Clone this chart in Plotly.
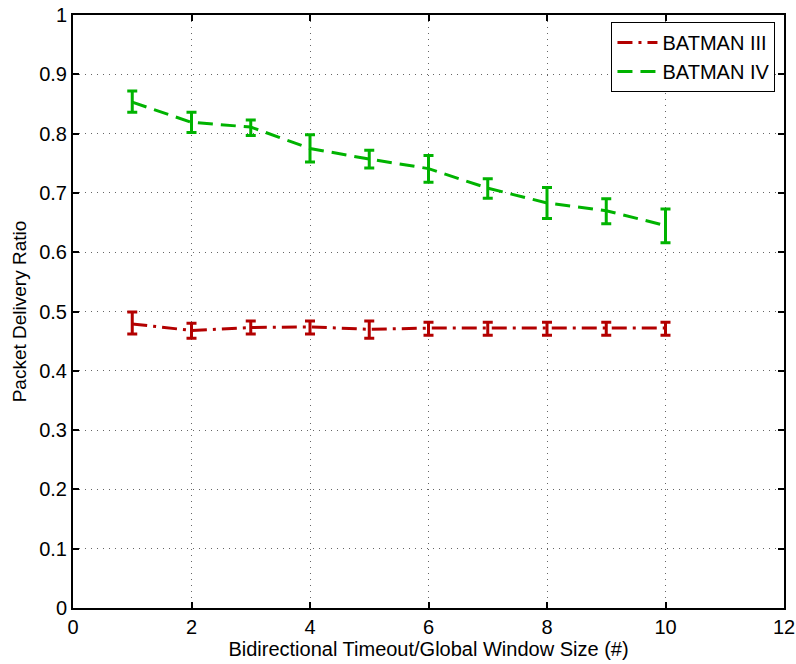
import plotly.graph_objects as go

x_vals = [1, 2, 3, 4, 5, 6, 7, 8, 9, 10]

b3_mean = [0.479, 0.468, 0.473, 0.474, 0.470, 0.472, 0.472, 0.472, 0.472, 0.472]
b3_upper = [0.499, 0.480, 0.484, 0.484, 0.484, 0.482, 0.482, 0.482, 0.482, 0.482]
b3_lower = [0.462, 0.455, 0.462, 0.462, 0.455, 0.460, 0.460, 0.460, 0.460, 0.460]

b4_mean = [0.853, 0.819, 0.811, 0.775, 0.757, 0.741, 0.708, 0.683, 0.670, 0.645]
b4_upper = [0.872, 0.836, 0.823, 0.798, 0.772, 0.763, 0.724, 0.709, 0.690, 0.673]
b4_lower = [0.836, 0.802, 0.797, 0.752, 0.742, 0.718, 0.691, 0.657, 0.648, 0.616]

x_ticks = [0, 2, 4, 6, 8, 10, 12]
y_ticks = [0, 0.1, 0.2, 0.3, 0.4, 0.5, 0.6, 0.7, 0.8, 0.9, 1]
y_tick_labels = ["0", "0.1", "0.2", "0.3", "0.4", "0.5", "0.6", "0.7", "0.8", "0.9", "1"]

RED = "#b30000"
GREEN = "#00b300"
FONT = "Liberation Sans, Arial, Helvetica, sans-serif"

def err(mean, up, lo):
    return ([u - m for u, m in zip(up, mean)], [m - l for m, l in zip(mean, lo)])

fig = go.Figure()

e3p, e3m = err(b3_mean, b3_upper, b3_lower)
e4p, e4m = err(b4_mean, b4_upper, b4_lower)

fig.add_trace(go.Scatter(
    x=x_vals, y=b3_mean, mode="lines", name="BATMAN III",
    line=dict(color=RED, width=3, dash="15px,6px,3px,6px"),
    error_y=dict(type="data", symmetric=False, array=e3p, arrayminus=e3m,
                 color=RED, thickness=3, width=5),
))
fig.add_trace(go.Scatter(
    x=x_vals, y=b4_mean, mode="lines", name="BATMAN IV",
    line=dict(color=GREEN, width=3, dash="15px,8px"),
    error_y=dict(type="data", symmetric=False, array=e4p, arrayminus=e4m,
                 color=GREEN, thickness=3, width=5),
))

axis_common = dict(
    showline=True, linecolor="black", linewidth=2, mirror="ticks",
    ticks="inside", ticklen=6, tickwidth=1.5, tickcolor="black",
    showgrid=True, gridcolor="#666666", gridwidth=1, griddash="1px,5px",
    zeroline=False, ticklabeloverflow="allow",
    tickfont=dict(family=FONT, size=20, color="black"),
)

fig.update_xaxes(
    range=[0, 12], tickvals=x_ticks, ticktext=[str(v) for v in x_ticks],
    title=dict(text="Bidirectional Timeout/Global Window Size (#)",
               font=dict(family=FONT, size=20, color="black"), standoff=0),
    automargin=False,
    **axis_common,
)
fig.update_yaxes(
    range=[0, 1], tickvals=y_ticks, ticktext=y_tick_labels,
    title=dict(text="Packet Delivery Ratio",
               font=dict(family=FONT, size=19, color="black"), standoff=8),
    automargin=False,
    **axis_common,
)

fig.update_layout(
    width=796, height=664,
    margin=dict(l=73, r=12, t=15, b=56),
    plot_bgcolor="white", paper_bgcolor="white",
    showlegend=True,
    legend=dict(
        x=0.988, y=0.988, xanchor="right", yanchor="top",
        bgcolor="white", bordercolor="black", borderwidth=1,
        font=dict(family=FONT, size=20, color="black"),
        tracegroupgap=0, itemwidth=40,
    ),
)

fig.write_html("out.html")
